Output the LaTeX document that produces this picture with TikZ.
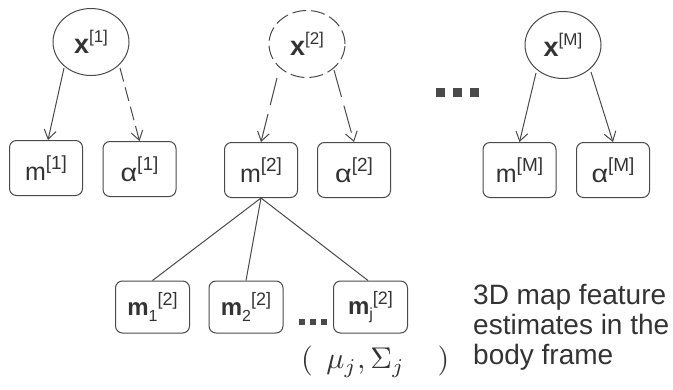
\documentclass[tikz,border=0pt]{standalone}
\usepackage{graphicx}
\usepackage{fontspec}
\setmainfont{Liberation Sans}
\setsansfont{Liberation Sans}
\usetikzlibrary{arrows.meta,shapes.geometric}
\definecolor{ln}{HTML}{4A4A4A}
\definecolor{tx}{HTML}{333333}
\newcommand\MySup[2]{\raisebox{0.42em}{\fontsize{#1}{#1}\selectfont #2}}
\newcommand\MySub[2]{\raisebox{-0.22em}{\fontsize{#1}{#1}\selectfont #2}}
\newcommand\Alp{\scalebox{1.15}[1]{α}}
\begin{document}
\begin{tikzpicture}[x=1pt,y=-1pt,
  every node/.style={text=tx},
  elli/.style={ellipse,draw=ln,line width=1pt,minimum width=76pt,minimum height=67pt,inner sep=0pt,font=\fontsize{27}{30}\selectfont},
  topbox/.style={draw=ln,line width=1pt,rounded corners=7pt,minimum width=73pt,minimum height=55pt,inner sep=0pt,font=\fontsize{25}{28}\selectfont},
  botbox/.style={draw=ln,line width=1pt,rounded corners=7pt,minimum width=74pt,minimum height=52pt,inner sep=0pt,font=\fontsize{24}{26}\selectfont},
  arr/.style={draw=ln,line width=1pt,-{Straight Barb[length=9pt,width=12pt,line width=1pt]}},
  brk/.style={dash pattern=on 28pt off 9pt},
  conn/.style={draw=ln,line width=1pt},
  dotsq/.style={fill=ln,draw=none,minimum size=#1,inner sep=0pt}]
\useasboundingbox (0,0) rectangle (673,389);
% top ellipses
\node[elli] (x1) at (91,42) {\textbf{x}\MySup{17}{[1]}};
\node[elli,dashed,dash pattern=on 14pt off 5pt] (x2) at (307,44) {\textbf{x}\MySup{17}{[2]}};
\node[elli] (xM) at (563,45) {\textbf{x}\MySup{17}{[M]}};
% middle row boxes
\node[topbox] (m1) at (46,168) {m\MySup{19}{[1]}};
\node[topbox] (a1) at (139.5,169) {\Alp\MySup{19}{[1]}};
\node[topbox] (m2) at (261,170) {m\MySup{19}{[2]}};
\node[topbox] (a2) at (354,170) {\Alp\MySup{19}{[2]}};
\node[topbox] (mM) at (519.5,170) {m\MySup{19}{[M]}};
\node[topbox] (aM) at (613,170) {\Alp\MySup{19}{[M]}};
% dots top
\node[dotsq=9pt] (d1) at (440,92) {};
\node[dotsq=9pt] (d2) at (457,92) {};
\node[dotsq=9pt] (d3) at (474,92) {};
% arrows
\coordinate (x1a) at (64,68); \coordinate (x1b) at (120,68);
\coordinate (x2a) at (277,78); \coordinate (x2b) at (334,70);
\coordinate (xMa) at (536,73); \coordinate (xMb) at (591,72);
\draw[arr] (x1a) -- (m1.north -| 48,0);
\draw[arr,dashed,dash pattern=on 14pt off 6pt] (x1b) -- (a1.north);
\draw[arr,brk] (x2a) -- (m2.north);
\draw[arr,brk] (x2b) -- (a2.north);
\draw[arr] (xMa) -- (mM.north);
\draw[arr] (xMb) -- (aM.north);
% bottom boxes
\node[botbox] (b1) at (152.5,307) {\textbf{m}\MySub{16}{1}\MySup{18}{[2]}};
\node[botbox] (b2) at (246,307) {\textbf{m}\MySub{16}{2}\MySup{18}{[2]}};
\node[botbox] (bj) at (370.5,307) {\textbf{m}\MySub{16}{j}\MySup{18}{[2]}};
\node[dotsq=6pt] (e1) at (302,322) {};
\node[dotsq=6pt] (e2) at (313,322) {};
\node[dotsq=6pt] (e3) at (324,322) {};
% connectors
\draw[conn] (m2.south) -- (b1.north);
\draw[conn] (m2.south) -- (b2.north);
\draw[conn] (m2.south) -- (bj.north -| 368,0);
% math label
\node[anchor=west,inner sep=0pt,font=\fontsize{10}{12}\selectfont] (mu) at (301,362) {\scalebox{3}{$(\hspace{4.5pt}\mu_j,\Sigma_j\hspace{11pt})$}};
% side text
\node[anchor=base west,inner sep=0pt,font=\fontsize{28}{29}\selectfont] (t1) at (473,304) {3D map feature};
\node[anchor=base west,inner sep=0pt,font=\fontsize{28}{29}\selectfont] (t2) at (473,334) {estimates in the};
\node[anchor=base west,inner sep=0pt,font=\fontsize{28}{29}\selectfont] (t3) at (473,364) {body frame};
\end{tikzpicture}
\end{document}
